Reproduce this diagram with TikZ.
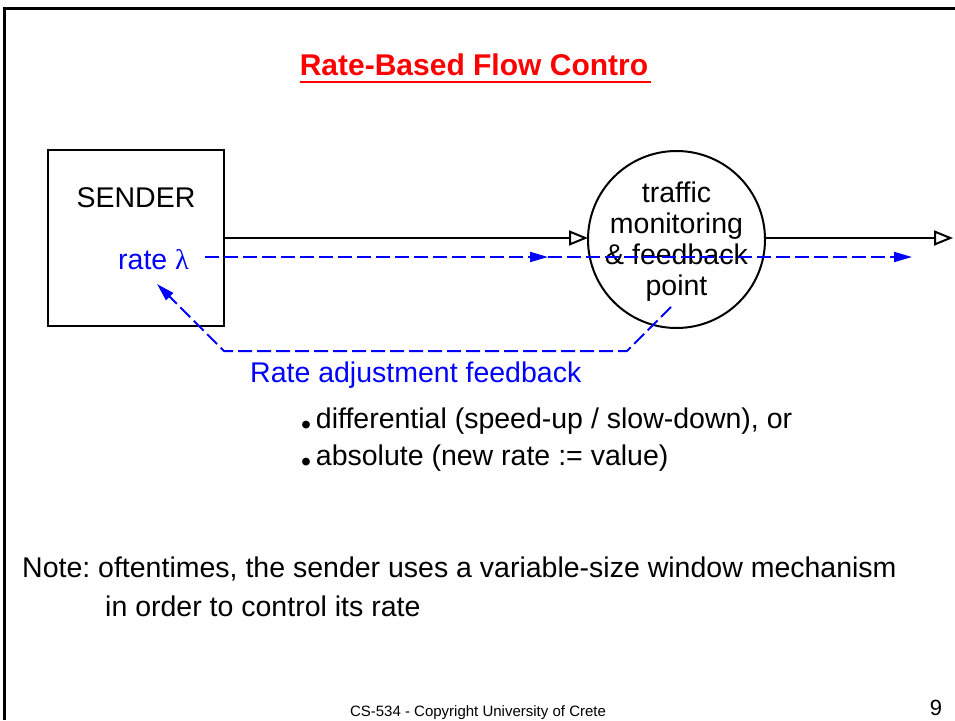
\documentclass[tikz,border=0pt]{standalone}
\usepackage{fontspec}
\setmainfont{Liberation Sans}
\newfontfamily\greekfont{Liberation Serif}
\usetikzlibrary{arrows.meta,calc}
\definecolor{fbblue}{RGB}{0,0,255}
\definecolor{titlered}{RGB}{255,0,0}
\frenchspacing
\tikzset{
  body/.style={font=\fontsize{28.5}{31}\selectfont, inner sep=0pt},
  lbl/.style={body, anchor=base west},
  flowline/.style={line width=2pt, -{Triangle[open,length=19pt,width=15pt]}},
  blueline/.style={fbblue, line width=2pt, dash pattern=on 14pt off 5pt},
  bluetip/.style={-{Triangle[length=18pt,width=10pt]}},
}
\begin{document}
\begin{tikzpicture}[x=1pt,y=-1pt]
\useasboundingbox (0,0) rectangle (955,720);

% page frame (top and left edges)
\draw[line width=3pt] (4.5,720) -- (4.5,8.5) -- (955,8.5);

% title
\node[anchor=base, inner sep=0pt, text=titlered,
      font=\bfseries\fontsize{30}{30}\selectfont] (title) at (474,75) {Rate-Based Flow Contro};
\draw[titlered, line width=1.5pt] ($(title.base west)+(0,7)$) -- ($(title.base east)+(3,7)$);

% sender box
\node[draw, line width=2.5pt, minimum width=176pt, minimum height=176pt, inner sep=0pt] (snd) at (136,238) {};
\node[body, anchor=base] (sndlbl) at (136,207) {SENDER};
\node[lbl, text=fbblue] (rate) at (118,269) {rate {\greekfont λ}};

% monitoring point
\node[draw, circle, line width=2pt, minimum size=177pt, inner sep=0pt, outer sep=0pt] (mon) at (676.5,239.5) {};
\node[body, align=center] (montxt) at ($(mon.center)+(0,2)$)
      {traffic\\monitoring\\\& feedback\\point};

% data flow
\coordinate (out) at (953,238);
\draw[flowline] (snd.east) -- (snd.east -| mon.west);
\draw[flowline] (snd.east -| mon.east) -- (out);

% rate (blue dashed) path
\coordinate (d0) at (205,257);
\coordinate (d1) at (548,257);
\coordinate (d2) at (912,257);
\draw[blueline, bluetip] (d0) -- (d1);
\draw[blueline, bluetip] (d1) -- (d2);

% feedback path back to the sender
\coordinate (f0) at (671,307);
\coordinate (f1) at (627,351);
\coordinate (f2) at (224,351);
\coordinate (f3) at (157,284);
\draw[blueline, bluetip] (f0) -- (f1) -- (f2) -- (f3);
\node[lbl, text=fbblue] (fblbl) at (250,382) {Rate adjustment feedback};

% feedback kinds
\node[lbl] (b1) at (301,428) {\raisebox{-6pt}{•}\,differential (speed-up / slow-down), or};
\node[lbl] (b2) at (301,465) {\raisebox{-6pt}{•}\,absolute (new rate := value)};

% note
\node[lbl] (note1) at (22,577) {Note: oftentimes, the sender uses a variable-size window mechanism};
\node[lbl] (note2) at (105,616) {in order to control its rate};

% footer
\node[anchor=base, inner sep=0pt, font=\fontsize{15}{15}\selectfont] (foot) at (478,716) {CS-534 - Copyright University of Crete};
\node[anchor=base, inner sep=0pt, font=\fontsize{22}{22}\selectfont] (pg) at (936,715) {9};
\end{tikzpicture}
\end{document}
